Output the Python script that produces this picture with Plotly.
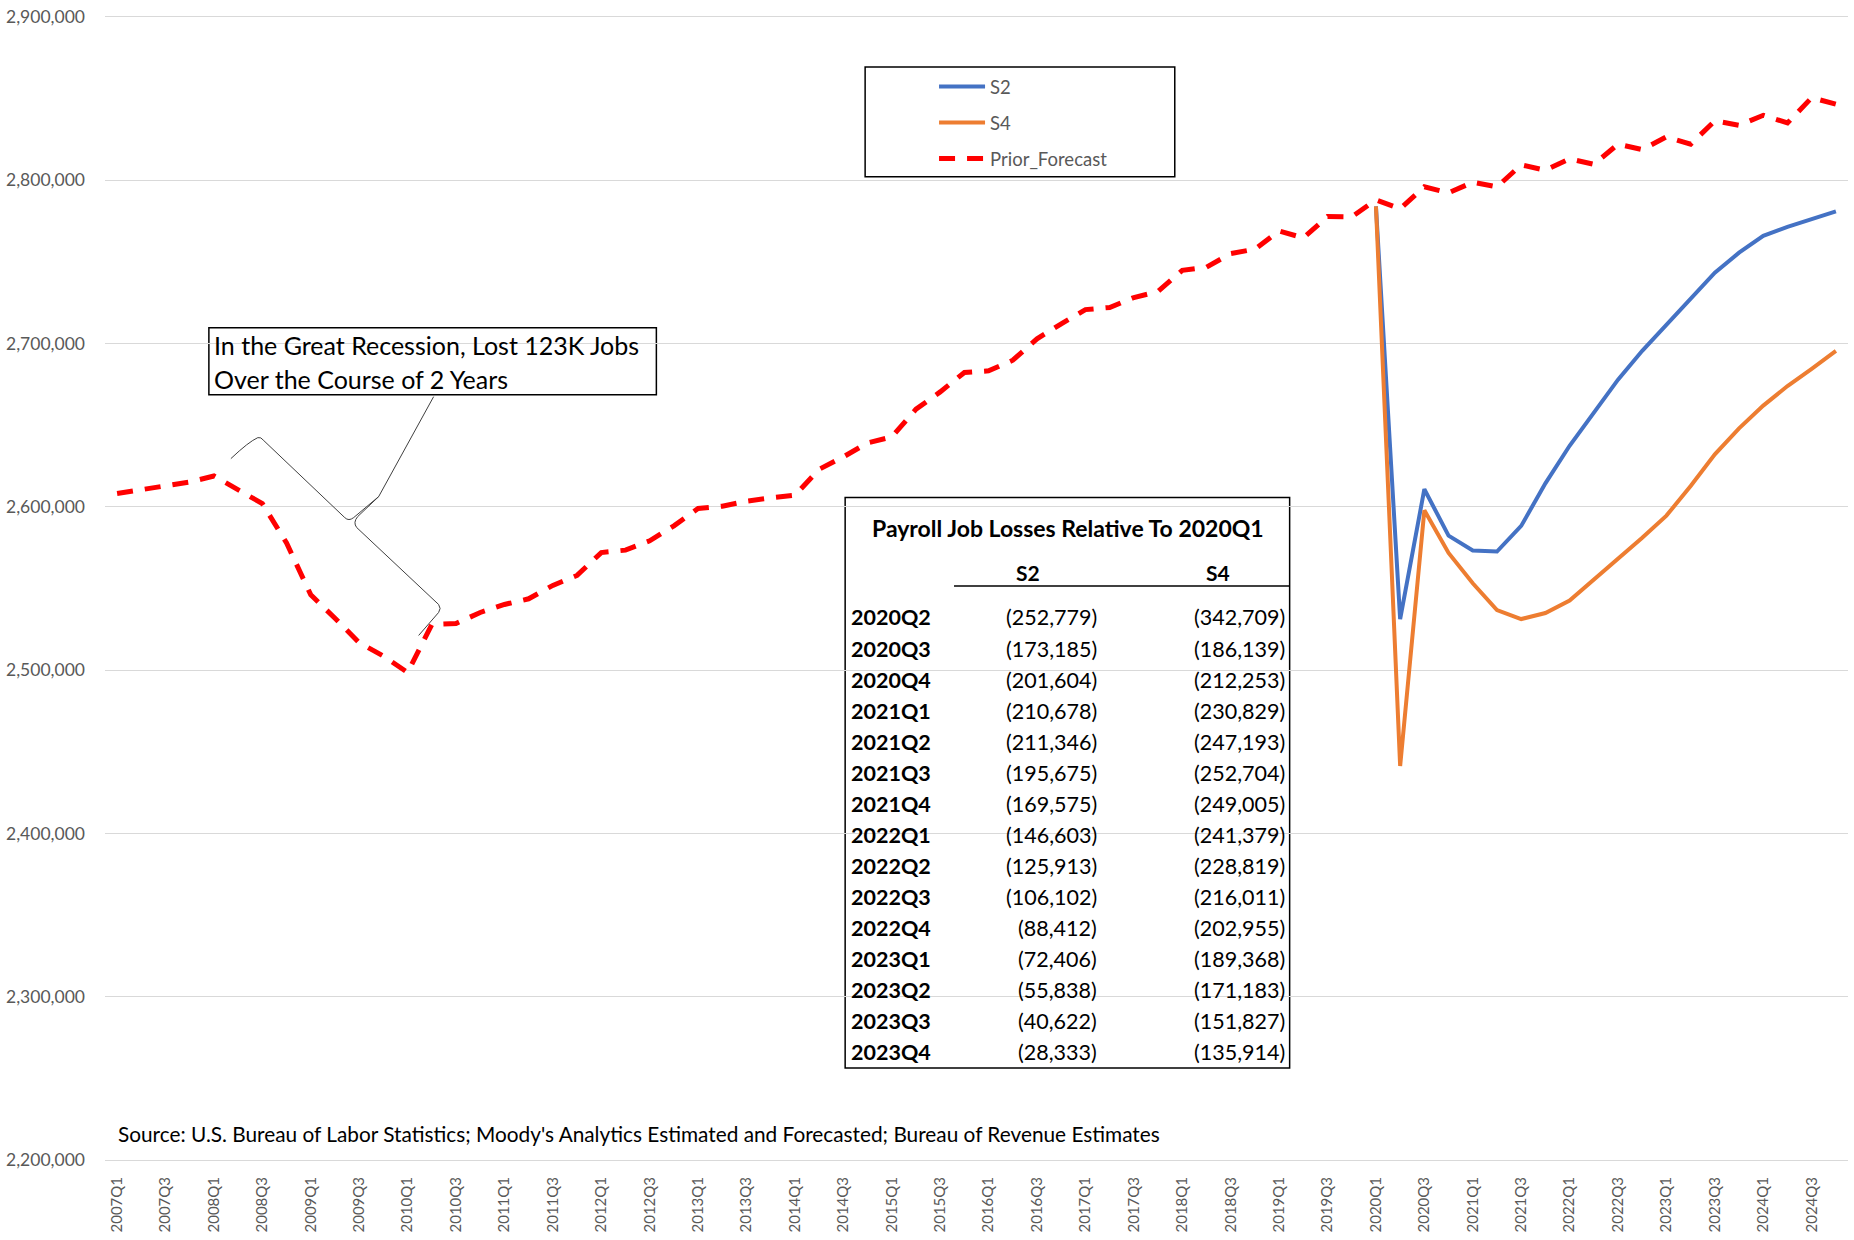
import plotly.graph_objects as go

# ---------------- data ----------------
quarters = [f"{yr}Q{q}" for yr in range(2007, 2025) for q in range(1, 5)]
tick_labels = quarters[::2]

prior_forecast = [
    2608200, 2610500, 2613300, 2615200, 2618900, 2610700, 2602000, 2577900,
    2546100, 2531800, 2516800, 2508600, 2498600, 2528000, 2528600, 2535300,
    2540200, 2543700, 2551900, 2558000, 2572000, 2573500, 2579200, 2588400,
    2599000, 2600400, 2603500, 2605500, 2607100, 2623000, 2630600, 2639200,
    2642800, 2659800, 2670400, 2682300, 2683300, 2689800, 2702900, 2712100,
    2720800, 2722100, 2728200, 2731900, 2744900, 2746800, 2755100, 2757800,
    2769000, 2764700, 2777800, 2777600, 2788000, 2782500, 2796000, 2792300,
    2798800, 2796000, 2809400, 2806200, 2813100, 2809800, 2822100, 2818800,
    2826600, 2822100, 2836400, 2833700, 2839800, 2835100, 2850600, 2846600,
]

scenario_quarters = quarters[52:]  # 2020Q1 .. 2024Q4
s2_values = [
    2784000, 2531221, 2610815, 2582396, 2573322, 2572654, 2588325, 2614425,
    2637397, 2658087, 2677898, 2695588, 2711594, 2728162, 2743378, 2755667,
    2766000, 2771500, 2776500, 2781000,
]
s4_values = [
    2784000, 2441291, 2597861, 2571747, 2553171, 2536807, 2531296, 2534995,
    2542621, 2555181, 2567989, 2581045, 2594632, 2612817, 2632173, 2648086,
    2662000, 2674000, 2684500, 2695500,
]

table_quarters = ["2020Q2", "2020Q3", "2020Q4", "2021Q1", "2021Q2", "2021Q3",
                  "2021Q4", "2022Q1", "2022Q2", "2022Q3", "2022Q4", "2023Q1",
                  "2023Q2", "2023Q3", "2023Q4"]
s2_losses = [252779, 173185, 201604, 210678, 211346, 195675, 169575, 146603,
             125913, 106102, 88412, 72406, 55838, 40622, 28333]
s4_losses = [342709, 186139, 212253, 230829, 247193, 252704, 249005, 241379,
             228819, 216011, 202955, 189368, 171183, 151827, 135914]

# ---------------- layout helpers (pixel -> paper) ----------------
W, H = 1854, 1240
PL, PR, PT, PB = 103, 1848, 16, 1160


def px(x):
    return (x - PL) / (PR - PL)


def py(y):
    return (PB - y) / (PB - PT)


FONT = "Lato"
GRAY = "#595959"

fig = go.Figure()
fig.add_trace(go.Scatter(x=scenario_quarters, y=s2_values, name="S2", mode="lines",
                         line=dict(color="#4472C4", width=4), legendgroup="a"))
fig.add_trace(go.Scatter(x=scenario_quarters, y=s4_values, name="S4", mode="lines",
                         line=dict(color="#ED7D31", width=4), legendgroup="b"))
fig.add_trace(go.Scatter(x=quarters, y=prior_forecast, name="Prior_Forecast", mode="lines",
                         line=dict(color="#FF0000", width=5, dash="16px,12px"), legendgroup="c"))

shapes = []
annotations = []

# legend box
shapes.append(dict(type="rect", xref="paper", yref="paper", x0=px(864), x1=px(1174),
                   y0=py(176), y1=py(66), line=dict(color="black", width=1.5),
                   fillcolor="white", layer="between"))

# annotation text box
shapes.append(dict(type="rect", xref="paper", yref="paper", x0=px(207), x1=px(655),
                   y0=py(394), y1=py(327), line=dict(color="black", width=1.5),
                   fillcolor="white", layer="between"))
for txt, yy in [("In the Great Recession, Lost 123K Jobs", 344),
                ("Over the Course of 2 Years", 378)]:
    annotations.append(dict(text=txt, xref="paper", yref="paper", x=px(210), y=py(yy),
                            xanchor="left", yanchor="middle", showarrow=False,
                            font=dict(family=FONT, size=25, color="black")))

# callout line and brace
def pth(points):
    out = []
    for cmd, pts in points:
        coords = " ".join(f"{px(a):.5f},{py(b):.5f}" for a, b in pts)
        out.append(f"{cmd}{coords}")
    return " ".join(out)

shapes.append(dict(type="path", xref="paper", yref="paper", layer="above",
                   path=pth([("M", [(432, 396)]), ("L", [(377, 496)])]),
                   line=dict(color="#404040", width=1)))
brace = pth([
    ("M", [(229, 458)]), ("Q", [(247, 441), (256, 437)]), ("Q", [(259, 436), (262, 440)]),
    ("L", [(343, 517)]), ("Q", [(347, 521), (352, 517)]), ("L", [(377, 496)]),
    ("L", [(356, 516)]), ("Q", [(351, 522), (355, 527)]), ("L", [(437, 604)]),
    ("Q", [(440, 608), (437, 612)]), ("L", [(417, 635)]),
])
shapes.append(dict(type="path", xref="paper", yref="paper", layer="above", path=brace,
                   line=dict(color="#404040", width=1)))

# table
shapes.append(dict(type="rect", xref="paper", yref="paper", x0=px(844), x1=px(1289),
                   y0=py(1068), y1=py(497), line=dict(color="black", width=1.5),
                   fillcolor="white", layer="between"))
shapes.append(dict(type="line", xref="paper", yref="paper", x0=px(953), x1=px(1289),
                   y0=py(585.5), y1=py(585.5), line=dict(color="black", width=1.5)))
annotations.append(dict(text="<b>Payroll Job Losses Relative To 2020Q1</b>", xref="paper",
                        yref="paper", x=px(1067), y=py(527), xanchor="center",
                        yanchor="middle", showarrow=False,
                        font=dict(family=FONT, size=23, color="black")))
for lbl, xx in [("S2", 1027), ("S4", 1217)]:
    annotations.append(dict(text=f"<b>{lbl}</b>", xref="paper", yref="paper", x=px(xx),
                            y=py(572), xanchor="center", yanchor="middle", showarrow=False,
                            font=dict(family=FONT, size=21, color="black")))
for k, (q, a, b) in enumerate(zip(table_quarters, s2_losses, s4_losses)):
    yy = 617 + 31.07 * k
    annotations.append(dict(text=f"<b>{q}</b>", xref="paper", yref="paper", x=px(848),
                            y=py(yy), xanchor="left", yanchor="middle", showarrow=False,
                            font=dict(family=FONT, size=21.5, color="black")))
    annotations.append(dict(text=f"({a:,})", xref="paper", yref="paper", x=px(1098),
                            y=py(yy), xanchor="right", yanchor="middle", showarrow=False,
                            font=dict(family=FONT, size=21.5, color="black")))
    annotations.append(dict(text=f"({b:,})", xref="paper", yref="paper", x=px(1286),
                            y=py(yy), xanchor="right", yanchor="middle", showarrow=False,
                            font=dict(family=FONT, size=21.5, color="black")))

# source note
annotations.append(dict(
    text="Source: U.S. Bureau of Labor Statistics; Moody's Analytics Estimated and Forecasted; Bureau of Revenue Estimates",
    xref="paper", yref="paper", x=px(114), y=py(1133), xanchor="left", yanchor="middle",
    showarrow=False, font=dict(family=FONT, size=20.8, color="black")))

fig.update_layout(
    width=W, height=H,
    margin=dict(l=PL, r=W - PR, t=PT, b=H - PB, pad=0),
    paper_bgcolor="white", plot_bgcolor="white",
    font=dict(family=FONT, color=GRAY),
    showlegend=True,
    legend=dict(x=px(933), y=py(67), xanchor="left", yanchor="top",
                bgcolor="rgba(0,0,0,0)", borderwidth=0, itemwidth=46,
                traceorder="grouped", tracegroupgap=9,
                font=dict(family=FONT, size=18.5, color=GRAY)),
    xaxis=dict(type="category", categoryorder="array", categoryarray=quarters,
               range=[-0.5, len(quarters) - 0.5],
               tickmode="array", tickvals=tick_labels, ticktext=tick_labels,
               tickangle=-90, ticks="", showgrid=False, zeroline=False,
               showline=True, mirror=True, linecolor="#D9D9D9", linewidth=1,
               ticklabelstandoff=10,
               tickfont=dict(family=FONT, size=15, color=GRAY)),
    yaxis=dict(range=[2200000, 2900000], dtick=100000, tickformat=",",
               showgrid=True, gridcolor="#D9D9D9", gridwidth=1, zeroline=False,
               showline=False, ticks="", ticklabelstandoff=19,
               tickfont=dict(family=FONT, size=17.5, color=GRAY)),
    shapes=shapes, annotations=annotations,
)

fig.write_html("out.html", config={"displayModeBar": False},
               post_script="document.body.style.margin='0px';document.body.style.overflow='hidden';")
